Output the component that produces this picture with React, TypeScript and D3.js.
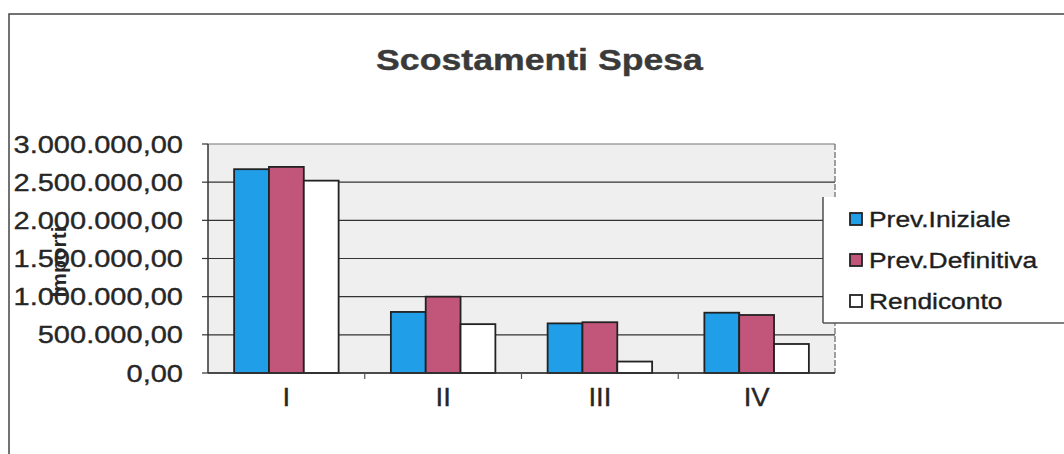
import React from "react";
import * as d3 from "d3";

const categories = ["I", "II", "III", "IV"];
const seriesNames = ["Prev.Iniziale", "Prev.Definitiva", "Rendiconto"];
const prevIniziale = [2670000, 800000, 650000, 790000];
const prevDefinitiva = [2700000, 1000000, 665000, 760000];
const rendiconto = [2520000, 640000, 150000, 380000];
const yTicks = [0, 500000, 1000000, 1500000, 2000000, 2500000, 3000000];
const seriesColors = ["#219ee8", "#c2567a", "#ffffff"];

const W = 1064;
const H = 454;
const plot = { left: 208, right: 835, top: 144, bottom: 373 };
const SX = 1.2;
const FONT = "'Liberation Sans', Arial, sans-serif";

const itLocale = d3.formatLocale({
  decimal: ",",
  thousands: ".",
  grouping: [3],
  currency: ["€", ""],
});
const fmt = itLocale.format(",.2f");

export default function App() {
  const series = [prevIniziale, prevDefinitiva, rendiconto];
  const x0 = d3
    .scaleBand<string>()
    .domain(categories)
    .range([plot.left, plot.right])
    .paddingInner(0)
    .paddingOuter(0);
  const bw = x0.bandwidth();
  const gap = (bw / 4.5) * 1.5;
  const x1 = d3
    .scaleBand<string>()
    .domain(seriesNames)
    .range([gap / 2, bw - gap / 2])
    .padding(0);
  const y = d3.scaleLinear().domain([0, 3000000]).range([plot.bottom, plot.top]);

  const legendRows = [219, 260, 301];
  const ink = "#262626";

  return (
    <svg
      width={W}
      height={H}
      style={{ position: "absolute", left: 0, top: 0, background: "#fff" }}
      fontFamily={FONT}
    >
      {/* outer frame */}
      <rect x={9} y={14} width={1200} height={600} fill="none" stroke="#444" strokeWidth={1.5} />

      {/* title */}
      <g transform={`translate(${(376 + 703) / 2},70) scale(${SX * 0.99},1)`}>
        <text textAnchor="middle" fontSize={30} fontWeight="bold" fill="#3a3a3a" stroke="#3a3a3a" strokeWidth={0.4}>
          Scostamenti Spesa
        </text>
      </g>

      {/* plot area */}
      <rect
        x={plot.left}
        y={plot.top}
        width={plot.right - plot.left}
        height={plot.bottom - plot.top}
        fill="#efefef"
      />
      {yTicks.map((t) => (
        <line
          key={"g" + t}
          x1={plot.left}
          x2={plot.right}
          y1={y(t)}
          y2={y(t)}
          stroke={t === 3000000 ? "#777" : "#333"}
          strokeWidth={1.2}
        />
      ))}
      <line x1={plot.right} x2={plot.right} y1={plot.top} y2={plot.bottom} stroke="#666" strokeWidth={1.2} strokeDasharray="6,2" />

      {/* bars */}
      {categories.map((c, ci) => (
        <g key={c} transform={`translate(${x0(c)},0)`}>
          {series.map((s, si) => (
            <rect
              key={si}
              x={x1(seriesNames[si])}
              y={y(s[ci])}
              width={x1.bandwidth()}
              height={y(0) - y(s[ci])}
              fill={seriesColors[si]}
              stroke="#222"
              strokeWidth={1.8}
            />
          ))}
        </g>
      ))}

      {/* axes */}
      <line x1={plot.left} x2={plot.left} y1={plot.top} y2={plot.bottom} stroke="#333" strokeWidth={1.5} />
      <line x1={plot.left} x2={plot.right} y1={plot.bottom} y2={plot.bottom} stroke="#333" strokeWidth={1.5} />
      {yTicks.map((t) => (
        <line key={"yt" + t} x1={plot.left - 6} x2={plot.left} y1={y(t)} y2={y(t)} stroke="#333" strokeWidth={1.2} />
      ))}
      {categories.map((c, i) =>
        i === 0 ? null : (
          <line key={"xt" + c} x1={x0(c)} x2={x0(c)} y1={plot.bottom} y2={plot.bottom + 6} stroke="#555" strokeWidth={1.2} />
        )
      )}

      {/* y labels */}
      {yTicks.map((t) => (
        <g key={"yl" + t} transform={`translate(183,${y(t)}) scale(1.21,1)`}>
          <text textAnchor="end" dy="0.36em" fontSize={24} fill={ink} stroke={ink} strokeWidth={0.35}>
            {fmt(t)}
          </text>
        </g>
      ))}

      {/* y axis title */}
      <g transform="translate(66,262) rotate(-90)">
        <text textAnchor="middle" fontSize={21} fontWeight="bold" fill={ink}>
          Importi
        </text>
      </g>

      {/* x labels */}
      {categories.map((c) => (
        <g key={"xl" + c} transform={`translate(${(x0(c) as number) + bw / 2},406) scale(1.1,1)`}>
          <text textAnchor="middle" fontSize={25} fill={ink} stroke={ink} strokeWidth={0.35}>
            {c}
          </text>
        </g>
      ))}

      {/* legend */}
      <rect x={823} y={197} width={240} height={126} fill="#fff" stroke="none" />
      <line x1={823} x2={823} y1={197} y2={323} stroke="#333" strokeWidth={1.3} />
      <line x1={823} x2={1064} y1={323} y2={323} stroke="#555" strokeWidth={1.3} />
      {seriesNames.map((n, i) => (
        <g key={n}>
          <rect
            x={850}
            y={legendRows[i] - 6}
            width={12}
            height={12}
            fill={seriesColors[i]}
            stroke="#222"
            strokeWidth={1.8}
          />
          <g transform={`translate(869,${legendRows[i] + 7.5}) scale(${SX},1)`}>
            <text fontSize={22} fill="#1e1e1e" stroke="#1e1e1e" strokeWidth={0.35}>
              {n}
            </text>
          </g>
        </g>
      ))}
    </svg>
  );
}
